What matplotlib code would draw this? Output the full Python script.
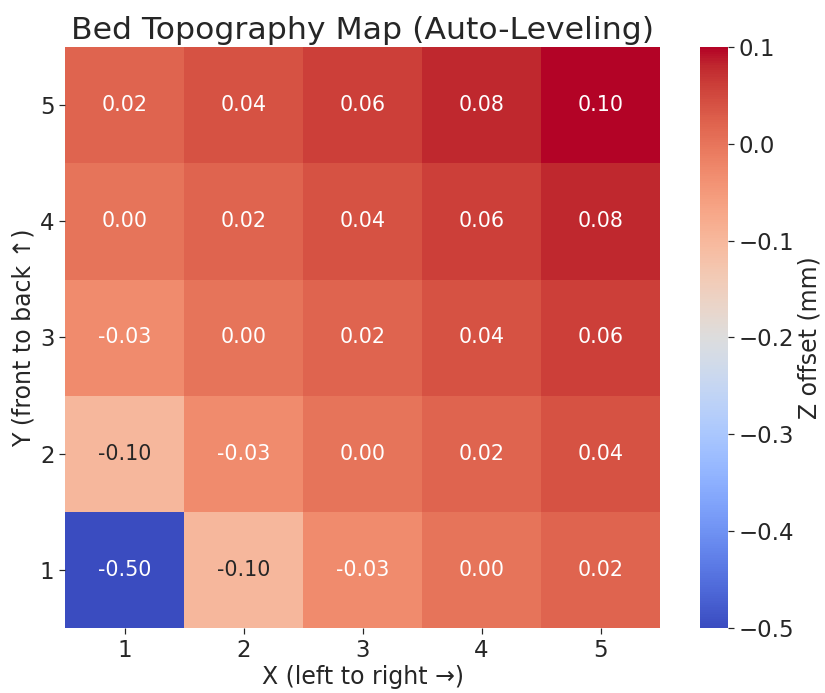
import numpy as np
import matplotlib
matplotlib.use("Agg")
import matplotlib.pyplot as plt

# probe grid, rows = Y 1..5 (front to back), cols = X 1..5
x_labels = ["1", "2", "3", "4", "5"]
y_labels = ["1", "2", "3", "4", "5"]
row_y1 = [-0.50, -0.10, -0.03, 0.00, 0.02]
row_y2 = [-0.10, -0.03, 0.00, 0.02, 0.04]
row_y3 = [-0.03, 0.00, 0.02, 0.04, 0.06]
row_y4 = [0.00, 0.02, 0.04, 0.06, 0.08]
row_y5 = [0.02, 0.04, 0.06, 0.08, 0.10]

z = np.array([row_y1, row_y2, row_y3, row_y4, row_y5])

dark = "#262626"
plt.rcParams["text.color"] = dark
plt.rcParams["xtick.color"] = dark
plt.rcParams["ytick.color"] = dark
plt.rcParams["axes.labelcolor"] = dark

fig = plt.figure(figsize=(7.5, 6.3), dpi=110)
ax = fig.add_axes([0.079, 0.094, 0.721, 0.838])
cax = fig.add_axes([0.848, 0.094, 0.034, 0.838])

im = ax.imshow(z, cmap="coolwarm", origin="lower", vmin=-0.5, vmax=0.1, aspect="auto")
for s in ax.spines.values():
    s.set_visible(False)

ax.set_xticks(range(5))
ax.set_xticklabels(x_labels)
ax.set_yticks(range(5))
ax.set_yticklabels(y_labels)
ax.tick_params(labelsize=15, length=4, pad=3)

for i in range(5):
    for j in range(5):
        v = z[i, j]
        col = dark if abs(v + 0.10) < 1e-9 else "white"
        ax.text(j, i, f"{v:.2f}", ha="center", va="center", color=col, fontsize=13.5)

ax.set_title("Bed Topography Map (Auto-Leveling)", fontsize=20.6, pad=5)
ax.set_xlabel("X (left to right \u2192)", fontsize=15.5, labelpad=2)
ax.set_ylabel("Y (front to back \u2191)", fontsize=15.5, labelpad=3)

cb = fig.colorbar(im, cax=cax)
cb.outline.set_visible(False)
cb.ax.tick_params(labelsize=15, length=4, pad=3)
cb.set_label("Z offset (mm)", fontsize=15.5, labelpad=2)

fig.savefig("out.png", dpi=110)
